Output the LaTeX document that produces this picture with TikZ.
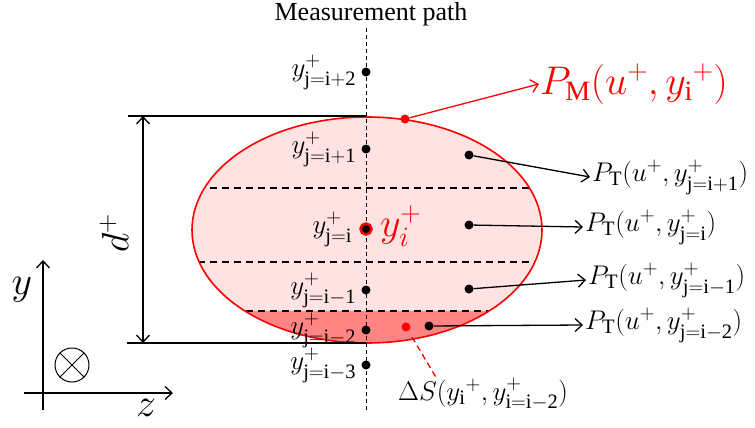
\documentclass[tikz,border=0pt]{standalone}
\usepackage{fix-cm}
\usepackage{amsmath}
\usepackage{fontspec}
\setmainfont{Liberation Serif}
\usetikzlibrary{positioning,arrows.meta}
\DeclareMathSizes{27}{27}{20.5}{15}

\definecolor{pinklight}{RGB}{255,226,226}
\definecolor{pinkdark}{RGB}{255,133,133}

\begin{document}
\begin{tikzpicture}[x=1pt,y=-1pt,
	pt/.style={circle,fill,inner sep=0pt,minimum size=9pt},
	redpt/.style={pt,fill=red},
	lab/.style={font=\fontsize{27}{30}\selectfont,inner sep=2pt},
	ylab/.style={font=\fontsize{27}{30}\selectfont,inner sep=1pt},
	biglab/.style={font=\fontsize{40}{44}\selectfont,inner sep=1pt},
	barb/.style={-{Straight Barb[length=7pt,width=13pt]},line width=1.3pt},
	chord/.style={line width=1.4pt,dash pattern=on 7pt off 5pt}]
	\useasboundingbox (0,0) rectangle (755,428);

	% cross section
	\fill[pinklight] (367,230) ellipse [x radius=175pt, y radius=113pt];
	\begin{scope}
		\clip (367,230) ellipse [x radius=175pt, y radius=113pt];
		\fill[pinkdark] (150,311) rectangle (600,360);
		\draw[chord] (150,188) -- (600,188);
		\draw[chord] (150,262) -- (600,262);
		\draw[chord] (150,311) -- (600,311);
	\end{scope}
	\draw[red,line width=1.6pt] (367,230) ellipse [x radius=175pt, y radius=113pt];

	% measurement path
	\coordinate (mtop) at (366,28);
	\coordinate (mbot) at (366,412);
	\draw[line width=0.9pt,dash pattern=on 4pt off 3pt] (mtop) -- (mbot);
	\node[font=\fontsize{26}{29}\selectfont] (mp) at (371,14) {Measurement path};

	\node[pt,label={[ylab,label distance=4pt]left:$y^{+}_{\mathrm{j=i+2}}$}] (j2) at (366,72) {};
	\node[pt,label={[ylab,label distance=4pt]left:$y^{+}_{\mathrm{j=i+1}}$}] (j1) at (366,149) {};
	\node[pt,draw=red,line width=2.5pt,minimum size=11pt,label={[ylab,label distance=6pt]left:$y^{+}_{\mathrm{j=i}}$}] (j0) at (366,229) {};
	\node[pt,label={[ylab,label distance=4pt]left:$y^{+}_{\mathrm{j=i-1}}$}] (jm1) at (366,290) {};
	\node[pt,label={[ylab,label distance=4pt]left:$y^{+}_{\mathrm{j=i-2}}$}] (jm2) at (366,330) {};
	\node[pt,label={[ylab,label distance=4pt]left:$y^{+}_{\mathrm{j=i-3}}$}] (jm3) at (366,365) {};
	\node[biglab,text=red,anchor=west] (yi) at (379,226) {$y_{i}^{+}$};

	% transport points
	\node[pt] (a1) at (469,155) {};
	\node[pt] (a0) at (469,225) {};
	\node[pt] (am1) at (469,289) {};
	\node[pt] (am2) at (429,326) {};
	\node[lab,anchor=west] (t1) at (590,177) {$P_{\mathrm{T}}(u^{+},y^{+}_{\mathrm{j=i+1}})$};
	\node[lab,anchor=west] (t0) at (583,227) {$P_{\mathrm{T}}(u^{+},y^{+}_{\mathrm{j=i}})$};
	\node[lab,anchor=west] (tm1) at (586,280) {$P_{\mathrm{T}}(u^{+},y^{+}_{\mathrm{j=i-1}})$};
	\node[lab,anchor=west] (tm2) at (583,325) {$P_{\mathrm{T}}(u^{+},y^{+}_{\mathrm{j=i-2}})$};
	\draw[barb] (a1) -- (t1.west);
	\draw[barb] (a0) -- (t0.west);
	\draw[barb] (am1) -- (tm1.west);
	\draw[barb] (am2) -- (tm2.west);

	% measured point
	\node[redpt] (pm) at (405,119) {};
	\node[biglab,text=red,anchor=west] (pml) at (539,84) {$P_{\mathrm{M}}(u^{+},y_{\mathrm{i}}{}^{+})$};
	\draw[barb,red] (pm) -- (pml.west);

	% area element
	\node[redpt] (ds) at (406,327) {};
	\node[lab,anchor=west] (dsl) at (396,394) {$\Delta S(y_{\mathrm{i}}{}^{+},y^{+}_{\mathrm{i=i-2}})$};
	\coordinate (dsend) at (437,379);
	\draw[red,line width=1.3pt,dash pattern=on 6pt off 4pt,shorten <=7pt] (ds) -- (dsend);

	% diameter
	\coordinate (dtop) at (128,116);
	\coordinate (dtopr) at (366,116);
	\coordinate (dbot) at (127,343);
	\coordinate (dbotr) at (366,343);
	\draw[line width=1.3pt] (dtop) -- (dtopr);
	\draw[line width=1.3pt] (dbot) -- (dbotr);
	\draw[line width=1.3pt,{Straight Barb[length=7pt,width=13pt]}-{Straight Barb[length=7pt,width=13pt]}] (143,116) -- (143,343);
	\node[font=\fontsize{38}{42}\selectfont,rotate=90] (dl) at (114,233) {$d^{+}$};

	% axes
	\coordinate (yb) at (43,410);
	\coordinate (yt) at (43,260);
	\coordinate (zl) at (24,393);
	\coordinate (zr) at (173,393);
	\draw[barb] (yb) -- (yt);
	\draw[barb] (zl) -- (zr);
	\node[font=\fontsize{40}{44}\selectfont] (ylab) at (22,290) {$y$};
	\node[font=\fontsize{40}{44}\selectfont] (zlab) at (146,408) {$z$};
	\node[circle,draw,line width=1pt,minimum size=34pt,inner sep=0pt] (ot) at (72,365) {};
	\draw[line width=1pt] (ot.north west) -- (ot.south east);
	\draw[line width=1pt] (ot.north east) -- (ot.south west);
\end{tikzpicture}
\end{document}
